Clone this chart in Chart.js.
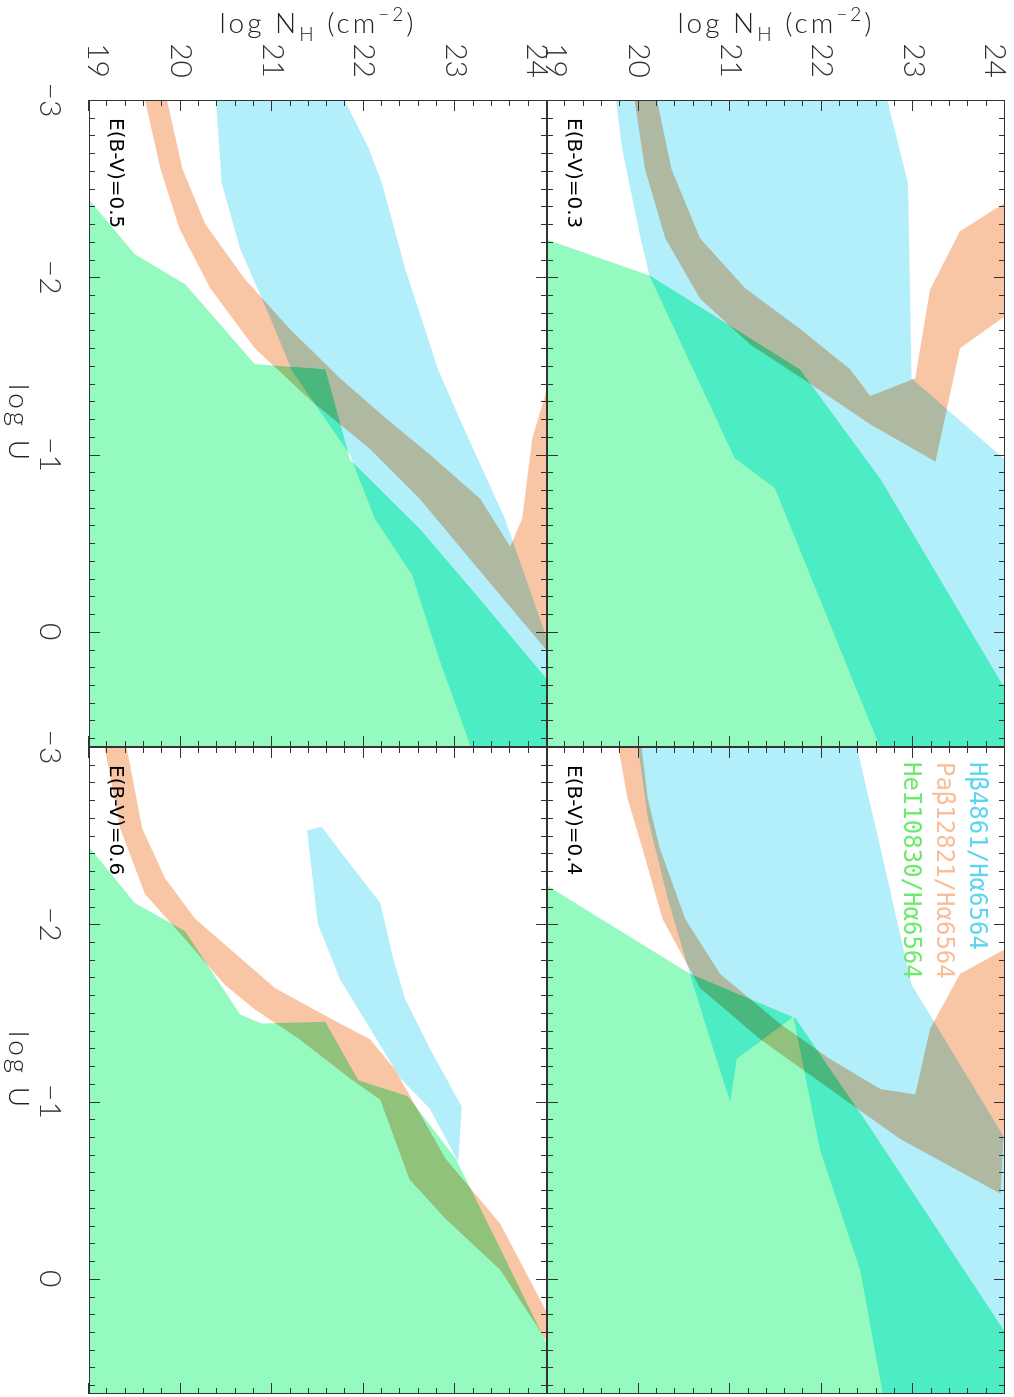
<!DOCTYPE html>
<html>
<head>
<meta charset="utf-8">
<title>log NH vs log U</title>
<script src="https://cdn.jsdelivr.net/npm/chart.js@4.4.1/dist/chart.umd.min.js"></script>
<style>
  html, body { margin: 0; padding: 0; background: #fff; overflow: hidden; }
  /* figure is laid out in its natural orientation, then turned a quarter clockwise */
  #fig { position: absolute; left: 0; top: 0; width: 1397px; height: 1014px;
         transform-origin: 0 0; transform: translate(1014px, 0) rotate(90deg); }
  #fig canvas { position: absolute; left: 0; top: 0; }
  .txt { position: absolute; white-space: nowrap; transform: translate(-50%, -50%); }
  .axt { font: 300 28px Lato, sans-serif; color: #222; letter-spacing: 3px; }
  .ytl { transform: translate(-50%, -50%) rotate(-90deg); }
  .sub { font-size: 19px; position: relative; top: 8px; }
  .sup { font-size: 19px; position: relative; top: -12px; }
  .ebv { font: 20px "DejaVu Sans", sans-serif; color: #000; transform: translate(0, -50%); }
  .leg { font: 24px "DejaVu Sans Mono", monospace; transform: translate(0, -50%); }
</style>
</head>
<body>
<div id="fig">
  <canvas id="c3" width="1397" height="1014"></canvas>
  <canvas id="c4" width="1397" height="1014"></canvas>
  <canvas id="c5" width="1397" height="1014"></canvas>
  <canvas id="c6" width="1397" height="1014"></canvas>
</div>
<script>
// categories / labels
var ebvValues = [0.3, 0.4, 0.5, 0.6];
var lineNames = ['H\u03b24861/H\u03b16564', 'Pa\u03b212821/H\u03b16564', 'HeI10830/H\u03b16564'];
var uTicks = [-3, -2, -1, 0];
var nhTicks = [19, 20, 21, 22, 23, 24];

// allowed regions, outline in (log U, log NH)
// E(B-V)=0.3
var hbU3 = [-3.05, -3.05, -2.53, -1.43, -0.97, -0.97, 0.75, 0.72, -0.81, -0.98, -2.01, -2.22, -2.73];
var hbN3 = [19.74, 22.69, 22.94, 22.98, 24.0, 24.5, 24.5, 22.69, 21.49, 21.05, 20.12, 20.02, 19.82];
var paU3 = [-3.05, -2.61, -2.22, -1.88, -1.62, -1.40, -1.17, -0.96, -1.60, -1.78, -1.81, -2.44, -2.42, -2.26, -1.93, -1.43, -1.33, -1.48, -1.71, -1.94, -2.22, -2.61, -3.05];
var paN3 = [19.94, 20.07, 20.29, 20.67, 21.22, 21.87, 22.53, 23.24, 23.51, 24.0, 24.11, 24.11, 24.0, 23.51, 23.18, 23.02, 22.53, 22.31, 21.76, 21.16, 20.67, 20.36, 20.18];
var heU3 = [-2.23, -2.01, -1.48, -0.86, 0.42, 0.8, 0.8];
var heN3 = [18.9, 20.12, 21.76, 22.64, 24.11, 24.11, 18.9];

// E(B-V)=0.4
var hbU4 = [-3.05, -3.05, -2.43, -1.66, -0.79, -0.79, 0.75, 0.74, -0.05, -0.73, -1.48, -1.24, -1.00, -1.32, -1.72, -2.14, -2.60];
var hbN4 = [19.98, 22.36, 22.64, 22.98, 24.0, 24.5, 24.5, 22.70, 22.42, 21.98, 21.69, 21.07, 21.0, 20.80, 20.56, 20.32, 20.10];
var paU4 = [-3.05, -2.71, -2.43, -2.03, -1.64, -1.35, -1.07, -0.79, -0.48, -0.96, -0.97, -1.89, -1.86, -1.72, -1.41, -1.04, -1.07, -1.24, -1.44, -1.72, -2.03, -2.43, -2.71, -3.05];
var paN4 = [19.76, 19.88, 20.04, 20.26, 20.67, 21.33, 22.09, 22.85, 23.95, 24.0, 24.11, 24.11, 24.0, 23.51, 23.18, 23.02, 22.64, 22.09, 21.54, 20.89, 20.51, 20.23, 20.10, 20.02];
var heU4 = [-2.25, -1.72, -1.47, -0.85, 0.42, 0.8, 0.8];
var heN4 = [18.9, 20.56, 21.71, 22.53, 24.15, 24.15, 18.9];

// E(B-V)=0.5
var hbU5 = [-3.05, -3.05, -2.73, -2.53, -2.05, -1.48, -1.14, -0.64, 0.04, 0.22, 0.8, 0.8, 0.72, 0.16, -0.32, -0.64, -1.00, -1.47, -1.77, -2.16, -2.53];
var hbN5 = [20.38, 21.74, 22.05, 22.20, 22.45, 22.81, 23.10, 23.54, 24.0, 24.14, 24.14, 23.22, 23.22, 22.83, 22.53, 22.12, 21.85, 21.22, 20.98, 20.65, 20.45];
var paU5 = [-3.05, -2.61, -2.27, -1.94, -1.60, -1.31, -1.03, -0.75, -0.41, -0.07, 0.16, -1.40, -1.37, -1.09, -0.64, -0.48, -0.75, -1.00, -1.21, -1.43, -1.71, -1.99, -2.30, -2.61, -3.05];
var paN5 = [19.59, 19.78, 19.99, 20.32, 20.81, 21.41, 22.07, 22.61, 23.16, 23.71, 24.09, 24.09, 24.0, 23.84, 23.73, 23.60, 23.27, 22.72, 22.23, 21.74, 21.19, 20.70, 20.27, 20.02, 19.83];
var heU5 = [-2.50, -2.13, -1.96, -1.51, -1.48, -0.97, -0.58, -0.18, 0.27, 0.40, 0.8, 0.8];
var heN5 = [18.9, 19.50, 20.05, 20.81, 21.58, 21.85, 22.61, 23.27, 24.0, 24.15, 24.15, 18.9];

// E(B-V)=0.6
var hbU6 = [-2.53, -2.55, -2.38, -2.12, -1.81, -1.58, -1.30, -0.97, -0.66, -0.96, -1.13, -1.41, -1.69, -2.00];
var hbN6 = [21.38, 21.54, 21.79, 22.18, 22.32, 22.45, 22.72, 23.07, 23.03, 22.72, 22.40, 22.07, 21.74, 21.50];
var paU6 = [-3.05, -2.54, -2.17, -1.95, -1.66, -1.52, -1.35, -1.13, -1.01, -0.56, -0.34, -0.05, 0.34, 0.40, 0.28, -0.31, -0.68, -1.18, -1.35, -1.47, -1.64, -1.81, -2.03, -2.26, -2.54, -3.05];
var paN6 = [19.15, 19.34, 19.61, 19.99, 20.48, 20.81, 21.30, 21.85, 22.18, 22.50, 22.89, 23.49, 23.98, 24.09, 24.09, 23.49, 22.89, 22.34, 22.07, 21.63, 21.03, 20.65, 20.16, 19.83, 19.58, 19.39];
var heU6 = [-2.50, -2.12, -1.96, -1.49, -1.44, -1.45, -1.12, -1.03, -0.68, -0.17, 0.37, 0.5, 0.8, 0.8];
var heN6 = [18.9, 19.50, 20.05, 20.65, 20.89, 21.58, 21.94, 22.48, 23.00, 23.49, 24.0, 24.16, 24.16, 18.9];

// per panel: [H-beta, Pa-beta, HeI]
var regions = [
  [[hbU3, hbN3], [paU3, paN3], [heU3, heN3]],
  [[hbU4, hbN4], [paU4, paN4], [heU4, heN4]],
  [[hbU5, hbN5], [paU5, paN5], [heU5, heN5]],
  [[hbU6, hbN6], [paU6, paN6], [heU6, heN6]]
];

var fillColors = ['#B3EEFB', '#F9C6A5', '#95FABF'];
var drawOrder = [2, 1, 3];          // HeI first, then H-beta, Pa-beta last
var bothColor = '#4CECC4';          // H-beta and HeI together
var legendColors = ['#5CD5F0', '#F9BE98', '#6BEA6B'];

// layout of the four boxes (unrotated figure coordinates)
var W = 1397, H = 1014, AXW = 100, AXH = 89;
var boxes = [
  { id: 'c3', left: 100, right: 747,  top: 9,   bottom: 467, xLab: false, yLab: true },
  { id: 'c4', left: 747, right: 1394, top: 9,   bottom: 467, xLab: false, yLab: false },
  { id: 'c5', left: 100, right: 747,  top: 467, bottom: 925, xLab: true,  yLab: true },
  { id: 'c6', left: 747, right: 1394, top: 467, bottom: 925, xLab: true,  yLab: false }
];

function tracePoints(ctx, pts) {
  ctx.beginPath();
  pts.forEach(function (p, i) { if (i) ctx.lineTo(p.x, p.y); else ctx.moveTo(p.x, p.y); });
  ctx.closePath();
}

// overlapping fills darken each other like transparencies
var multiplyFills = {
  id: 'multiplyFills',
  beforeDraw: function (chart) {
    var a = chart.chartArea, ctx = chart.ctx;
    ctx.save();
    ctx.fillStyle = '#fff';
    ctx.fillRect(a.left, a.top, a.right - a.left, a.bottom - a.top);
    ctx.restore();
  },
  beforeDatasetsDraw: function (chart) { chart.ctx.globalCompositeOperation = 'multiply'; },
  afterDatasetDraw: function (chart, args) {
    // H-beta is drawn right after HeI: repaint their common part
    if (args.index !== 0) return;
    var ctx = chart.ctx, a = chart.chartArea;
    ctx.save();
    ctx.beginPath();
    ctx.rect(a.left, a.top, a.right - a.left, a.bottom - a.top);
    ctx.clip();
    tracePoints(ctx, chart.getDatasetMeta(0).data);
    ctx.clip();
    tracePoints(ctx, chart.getDatasetMeta(2).data);
    ctx.clip();
    ctx.globalCompositeOperation = 'source-over';
    ctx.fillStyle = bothColor;
    ctx.fillRect(a.left, a.top, a.right - a.left, a.bottom - a.top);
    ctx.restore();
  },
  afterDatasetsDraw: function (chart) { chart.ctx.globalCompositeOperation = 'source-over'; }
};

// box with inward ticks on all sides
var frameTicks = {
  id: 'frameTicks',
  afterDraw: function (chart) {
    var ctx = chart.ctx, a = chart.chartArea, x = chart.scales.x, y = chart.scales.y;
    ctx.save();
    ctx.strokeStyle = '#333';
    ctx.lineWidth = 1;
    ctx.beginPath();
    for (var i = 0; i <= 36; i++) {
      var v = -3 + i * 0.1;
      if (v > x.max + 1e-9) break;
      var px = Math.round(x.getPixelForValue(v)) + 0.5;
      var len = (i % 10 === 0) ? 11 : 6;
      ctx.moveTo(px, a.top); ctx.lineTo(px, a.top + len);
      ctx.moveTo(px, a.bottom); ctx.lineTo(px, a.bottom - len);
    }
    for (var j = 0; j <= 25; j++) {
      var py = Math.round(y.getPixelForValue(19 + j * 0.2)) + 0.5;
      var l2 = (j % 5 === 0) ? 11 : 6;
      ctx.moveTo(a.left, py); ctx.lineTo(a.left + l2, py);
      ctx.moveTo(a.right, py); ctx.lineTo(a.right - l2, py);
    }
    ctx.stroke();
    ctx.strokeRect(a.left + 0.5, a.top + 0.5, a.right - a.left - 1, a.bottom - a.top - 1);
    ctx.restore();
  }
};

var tickFont = { family: 'Lato', size: 30, weight: '300' };

boxes.forEach(function (b, k) {
  var sets = regions[k].map(function (r, m) {
    return {
      data: r[0].map(function (u, i) { return { x: u, y: r[1][i] }; }),
      order: drawOrder[m],
      showLine: true,
      fill: 'shape',
      backgroundColor: fillColors[m],
      borderColor: 'transparent',
      borderWidth: 0,
      pointRadius: 0,
      tension: 0
    };
  });
  new Chart(document.getElementById(b.id), {
    type: 'scatter',
    data: { datasets: sets },
    options: {
      responsive: false,
      animation: false,
      events: [],
      layout: { padding: { left: b.left - AXW, top: b.top, right: W - b.right, bottom: H - b.bottom - AXH } },
      plugins: { legend: { display: false }, tooltip: { enabled: false } },
      scales: {
        x: {
          type: 'linear', min: -3, max: 0.65,
          grid: { display: false }, border: { display: false },
          afterBuildTicks: function (s) { s.ticks = uTicks.map(function (v) { return { value: v }; }); },
          afterFit: function (s) { s.height = AXH; s.paddingLeft = 0; s.paddingRight = 0; },
          ticks: {
            display: b.xLab, padding: 13, color: '#333', font: tickFont, maxRotation: 0,
            callback: function (v) { return (v < 0 ? '\u2212' : '') + Math.abs(v); }
          }
        },
        y: {
          type: 'linear', min: 19, max: 24,
          grid: { display: false }, border: { display: false },
          // end labels sit a little inside the box, as in the original
          afterBuildTicks: function (s) {
            s.ticks = nhTicks.map(function (v) { return { value: v === 19 ? 19.1 : (v === 24 ? 23.89 : v) }; });
          },
          afterFit: function (s) { s.width = AXW; s.paddingTop = 0; s.paddingBottom = 0; },
          ticks: {
            display: b.yLab, padding: 14, color: '#333', font: tickFont,
            callback: function (v) { return String(Math.round(v)); }
          }
        }
      }
    },
    plugins: [multiplyFills, frameTicks]
  });
});

// text: axis titles, panel labels, legend
var fig = document.getElementById('fig');
function addText(cls, html, x, y, color) {
  var d = document.createElement('div');
  d.className = 'txt ' + cls;
  d.innerHTML = html;
  d.style.left = x + 'px';
  d.style.top = y + 'px';
  if (color) d.style.color = color;
  fig.appendChild(d);
}
boxes.forEach(function (b, k) {
  if (b.yLab) addText('axt ytl', 'log N<span class="sub">H</span> (cm<span class="sup">\u22122</span>)', 22, (b.top + b.bottom) / 2);
  if (b.xLab) addText('axt', 'log U', (b.left + b.right) / 2, 994);
  addText('ebv', 'E(B-V)=' + ebvValues[k].toFixed(1), b.left + 18, b.bottom - 28);
});
lineNames.forEach(function (n, i) {
  addText('leg', n, 762, 36 + i * 33, legendColors[i]);
});
</script>
</body>
</html>
